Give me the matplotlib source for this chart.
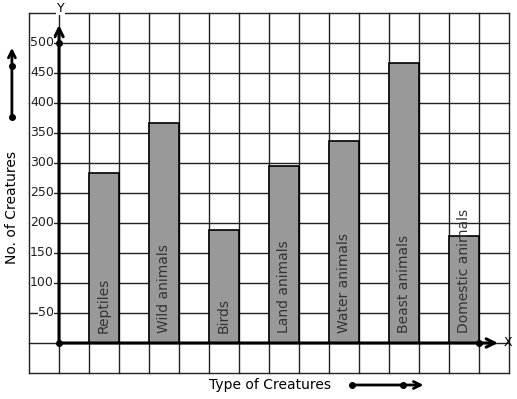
import matplotlib
matplotlib.use("Agg")
from matplotlib import pyplot as plt

creatures = ["Reptiles", "Wild animals", "Birds", "Land animals",
             "Water animals", "Beast animals", "Domestic animals"]
counts = [283, 366, 188, 295, 337, 467, 178]
bar_pos = [1.5, 3.5, 5.5, 7.5, 9.5, 11.5, 13.5]
y_ticks = [50, 100, 150, 200, 250, 300, 350, 400, 450, 500]

fig = plt.figure(figsize=(5.17, 3.99), dpi=100)
ax = fig.add_axes([0, 0, 1, 1])
ax.set_xlim(-59 / 30, (517 - 59) / 30)
ax.set_ylim(-56 * 50 / 30, 343 * 50 / 30)
ax.axis("off")

# grid paper
grid_col = "#222222"
for gx in range(-1, 16):
    ax.plot([gx, gx], [-50, 550], color=grid_col, lw=1,
            zorder=4.5 if gx == -1 else 1)
for gy in range(-50, 551, 50):
    ax.plot([-1, 15], [gy, gy], color=grid_col, lw=1, zorder=1)

# bars
ax.bar(bar_pos, counts, width=1, color="#999999", edgecolor="black",
       linewidth=1.2, zorder=2)
for x, name in zip(bar_pos, creatures):
    ax.text(x, 17, name, rotation=90, ha="center", va="bottom",
            fontsize=10, color="#333333", zorder=3)

# axes with arrows
ax.annotate("", xy=(0, 530), xytext=(0, 0),
            arrowprops=dict(arrowstyle="->,head_length=0.6,head_width=0.3",
                            lw=2.2, color="black", shrinkA=0, shrinkB=0),
            zorder=4)
ax.annotate("", xy=(14.63, 0), xytext=(0, 0),
            arrowprops=dict(arrowstyle="->,head_length=0.6,head_width=0.3",
                            lw=2.2, color="black", shrinkA=0, shrinkB=0),
            zorder=4)
ax.plot([0, 0, 14], [0, 500, 0], "o", color="black", ms=4, zorder=5,
        linestyle="none")

ax.text(0.05, 558, "Y", ha="center", va="center", fontsize=9,
        bbox=dict(facecolor="white", edgecolor="none", pad=0.5), zorder=4)
ax.text(14.95, 0, "X", ha="center", va="center", fontsize=9, zorder=4)

for t in y_ticks:
    ax.text(-0.17, t, str(t), ha="right", va="center", fontsize=9,
            color="#222222",
            bbox=dict(facecolor="white", edgecolor="none", pad=0.3),
            zorder=4)

# y axis title with arrow
ax.text(-1.57, 226, "No. of Creatures", rotation=90, ha="center",
        va="center", fontsize=10)
ax.annotate("", xy=(-1.57, 492), xytext=(-1.57, 377),
            arrowprops=dict(arrowstyle="->,head_length=0.5,head_width=0.25",
                            lw=2, color="black", shrinkA=0, shrinkB=0))
ax.plot([-1.57, -1.57], [377, 462], "o", color="black", ms=4)

# x axis title with arrow
ax.text(7.02, -70, "Type of Creatures", ha="center", va="center",
        fontsize=10)
ax.annotate("", xy=(12.15, -70), xytext=(9.77, -70),
            arrowprops=dict(arrowstyle="->,head_length=0.5,head_width=0.25",
                            lw=2, color="black", shrinkA=0, shrinkB=0))
ax.plot([9.77, 11.47], [-70, -70], "o", color="black", ms=4)

fig.savefig("out.png", dpi=100)
